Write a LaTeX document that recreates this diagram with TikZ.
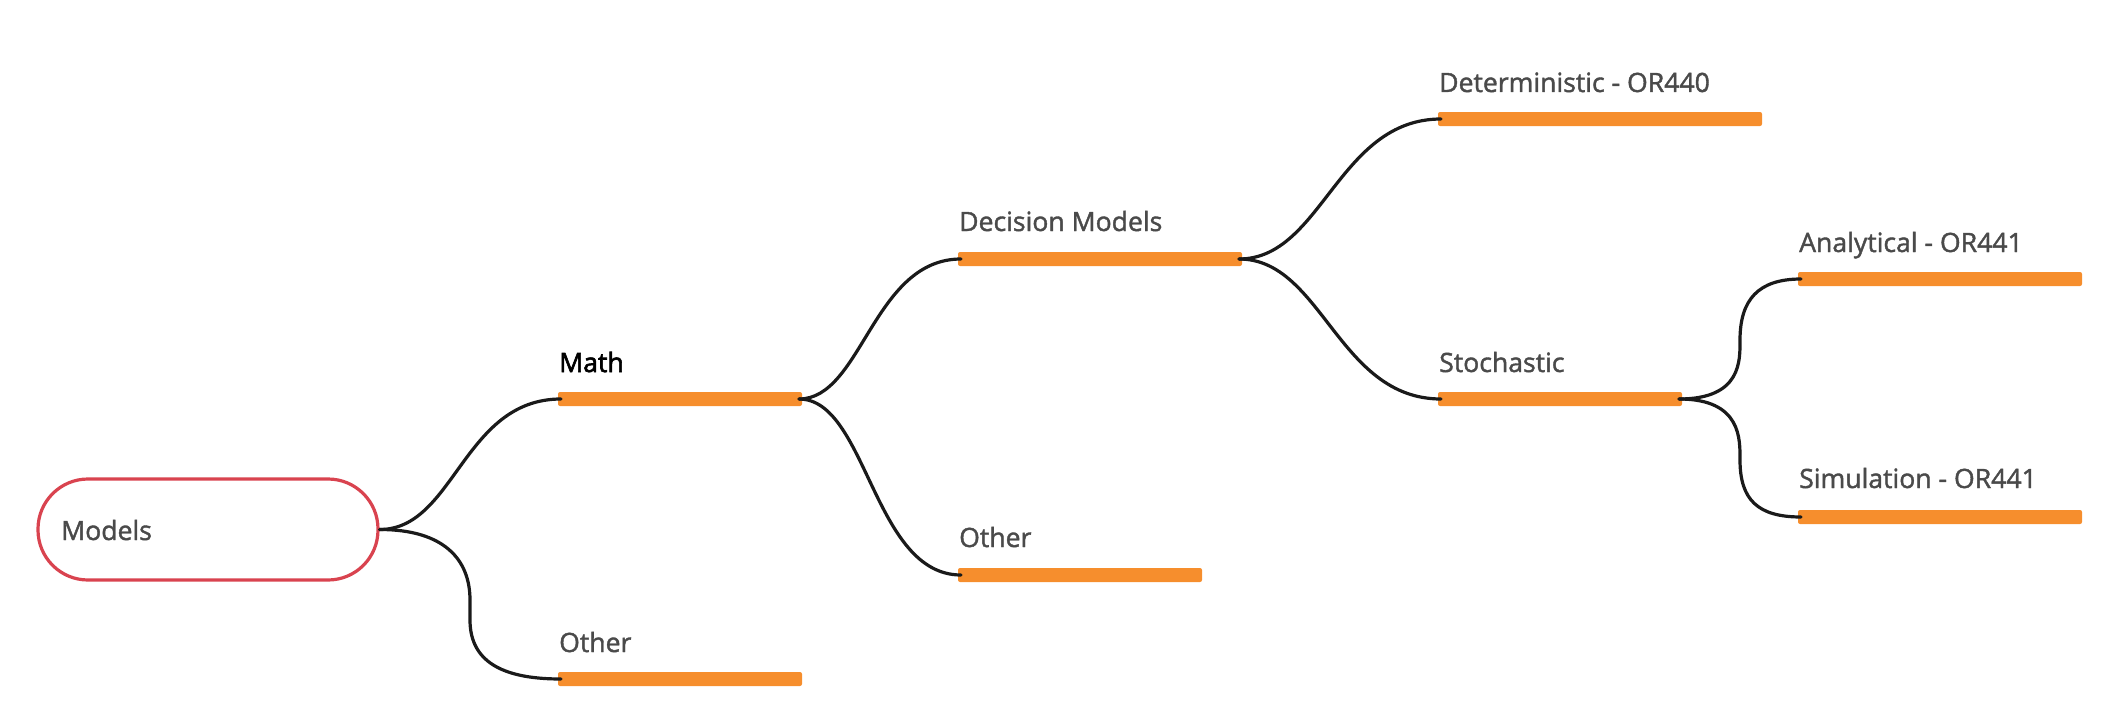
\documentclass[tikz,border=0pt]{standalone}
\usepackage{fontspec}
\setmainfont{Open Sans}
\newfontfamily\semifont{Open Sans}[FakeBold=1.5]
\newfontfamily\heavyfont{Open Sans}[FakeBold=2.4]
\usetikzlibrary{calc}
\definecolor{barorange}{HTML}{F68E2D}
\definecolor{rootred}{HTML}{D9434F}
\definecolor{txtgray}{HTML}{4A4A4A}
\definecolor{linkblack}{HTML}{1A1A1A}
\tikzset{
  bar/.style={draw=none, fill=barorange, rounded corners=2pt, minimum height=14pt, inner sep=0pt, outer sep=0pt},
  lbl/.style={anchor=base west, inner sep=0pt, text=txtgray, font=\semifont\fontsize{26.6}{30}\selectfont},
  link/.style={draw=linkblack, line width=3.2pt, line cap=round},
  root/.style={draw=rootred, line width=3.2pt, fill=white, rounded corners=50pt, minimum width=340pt, minimum height=101pt, inner sep=0pt}
}
\begin{document}
\begin{tikzpicture}[x=1pt,y=-1pt]
\useasboundingbox (0,0) rectangle (2120,725);
% root
\node[root] (models) at (208,529.5) {};
\node[lbl] (modelslbl) at (61,540) {Models};
% bars
\node[bar, minimum width=244pt] (math) at (680,399) {};
\node[bar, minimum width=244pt] (other1) at (680,679) {};
\node[bar, minimum width=284pt] (decision) at (1100,259) {};
\node[bar, minimum width=244pt] (other2) at (1080,575) {};
\node[bar, minimum width=324pt] (determ) at (1600,119) {};
\node[bar, minimum width=244pt] (stoch) at (1560,399) {};
\node[bar, minimum width=284pt] (analyt) at (1940,279) {};
\node[bar, minimum width=284pt] (simul) at (1940,517) {};
% labels
\node[lbl, text=black, font=\heavyfont\fontsize{26.6}{30}\selectfont] (mathlbl) at (559,372) {Math};
\node[lbl] (other1lbl) at (559,652) {Other};
\node[lbl] (decisionlbl) at (959,231) {Decision Models};
\node[lbl] (other2lbl) at (959,547) {Other};
\node[lbl] (determlbl) at (1439,92) {Deterministic - OR440};
\node[lbl] (stochlbl) at (1439,372) {Stochastic};
\node[lbl] (analytlbl) at (1799,252) {Analytical - OR441};
\node[lbl] (simullbl) at (1799,488) {Simulation - OR441};
% connectors
\draw[link] (models.east) .. controls ($(models.east)+(75,0)$) and ($(math.west)+(-95,0)$) .. ($(math.west)+(3,0)$);
\draw[link] (models.east) .. controls ($(models.east)+(65,0)$) and (470,560) .. (470,600)
  -- (470,620) .. controls (470,665) and ($(other1.west)+(-50,0)$) .. ($(other1.west)+(3,0)$);
\draw[link] ($(math.east)+(-3,0)$) .. controls ($(math.east)+(60,0)$) and ($(decision.west)+(-85,0)$) .. ($(decision.west)+(3,0)$);
\draw[link] ($(math.east)+(-3,0)$) .. controls ($(math.east)+(65,0)$) and ($(other2.west)+(-85,0)$) .. ($(other2.west)+(3,0)$);
\draw[link] ($(decision.east)+(-3,0)$) .. controls ($(decision.east)+(80,0)$) and ($(determ.west)+(-100,0)$) .. ($(determ.west)+(3,0)$);
\draw[link] ($(decision.east)+(-3,0)$) .. controls ($(decision.east)+(80,0)$) and ($(stoch.west)+(-100,0)$) .. ($(stoch.west)+(3,0)$);
\draw[link] ($(stoch.east)+(-3,0)$) .. controls ($(stoch.east)+(60,0)$) and (1740,360) .. (1740,340)
  .. controls (1740,300) and ($(analyt.west)+(-40,0)$) .. ($(analyt.west)+(3,0)$);
\draw[link] ($(stoch.east)+(-3,0)$) .. controls ($(stoch.east)+(60,0)$) and (1740,440) .. (1740,460)
  .. controls (1740,500) and ($(simul.west)+(-40,0)$) .. ($(simul.west)+(3,0)$);
\end{tikzpicture}
\end{document}
